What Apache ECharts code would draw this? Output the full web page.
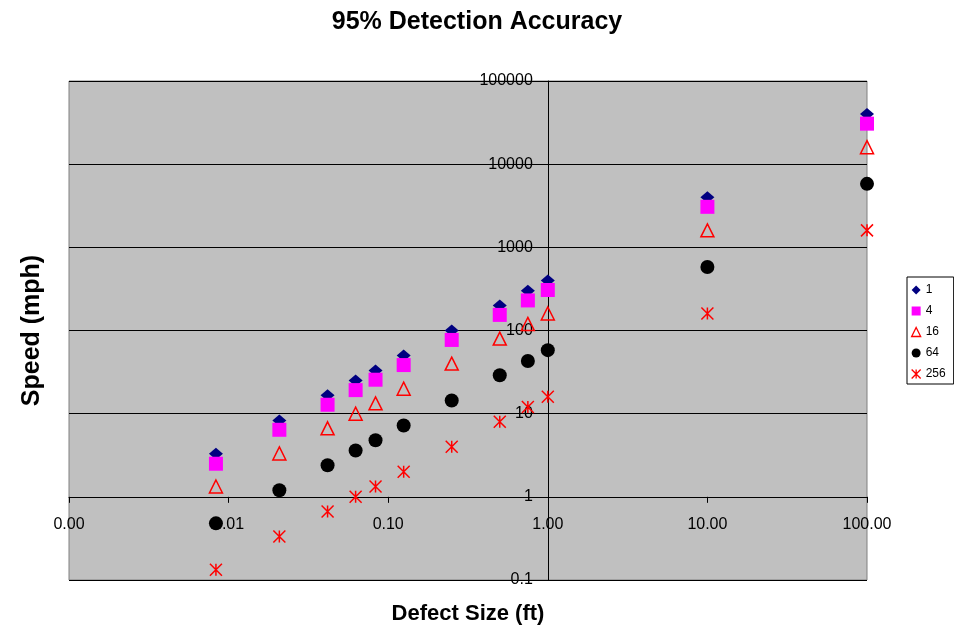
<!DOCTYPE html>
<html><head><meta charset="utf-8">
<script src="https://cdn.jsdelivr.net/npm/echarts@6/dist/echarts.min.js"></script>
<style>html,body{margin:0;padding:0;background:#fff}#c{width:954px;height:628px}</style>
</head><body><div id="c"></div>
<script>
// Defect sizes (ft)
const sizes = [0.00833, 0.0208, 0.0417, 0.0625, 0.0833, 0.125, 0.25, 0.5, 0.75, 1, 10, 100];
// Speeds (mph) per series
const speed1 = [3.3, 8.3, 16.7, 25, 33, 50, 100, 200, 300, 400, 4000, 40000];
const speed4 = [2.5, 6.4, 12.8, 19.2, 25.6, 38.4, 77, 154, 230, 307, 3070, 30700];
const speed16 = [1.33, 3.33, 6.67, 10, 13.3, 20, 40, 80, 120, 160, 1600, 16000];
const speed64 = [0.48, 1.2, 2.4, 3.6, 4.8, 7.2, 14.4, 29, 43, 58, 580, 5800];
const speed256 = [0.133, 0.333, 0.667, 1.0, 1.33, 2.0, 4.0, 8.0, 12, 16, 160, 1600];
const seriesNames = ['1', '4', '16', '64', '256'];

const FONT = 'Liberation Sans, Arial, sans-serif';
const G = {left: 69, top: 81, right: 87, bottom: 48};
const W = 954, H = 628;
const gw = W - G.left - G.right, gh = H - G.top - G.bottom;
// axes cross at x = 1 and y = 1
const xCrossOffset = -(gw * 3 / 5);   // 1 is 3 of 5 decades from left
const yCrossOffset = -(gh * 1 / 6);   // 1 is 1 of 6 decades from bottom

const STAR = 'path://M0,0L10,10M10,0L0,10M5,0L5,10';
const styles = [
  {symbol: 'diamond', symbolSize: [14, 12], itemStyle: {color: '#000080', opacity: 1}},
  {symbol: 'rect', symbolSize: 14, itemStyle: {color: '#FF00FF', opacity: 1}},
  {symbol: 'triangle', symbolSize: 13, itemStyle: {color: 'rgba(0,0,0,0)', borderColor: '#FF0000', borderWidth: 1.5, opacity: 1}},
  {symbol: 'circle', symbolSize: 14, itemStyle: {color: '#000000', opacity: 1}},
  {symbol: STAR, symbolSize: 12, itemStyle: {color: 'rgba(0,0,0,0)', borderColor: '#FF0000', borderWidth: 1.5, opacity: 1}}
];
const values = [speed1, speed4, speed16, speed64, speed256];

const series = seriesNames.map((n, i) => Object.assign({
  name: n,
  type: 'scatter',
  data: sizes.map((s, j) => [s, values[i][j]]),
  emphasis: {disabled: true},
  silent: true
}, styles[i]));

const legendIcons = [
  {icon: 'diamond', itemStyle: {color: '#000080', borderWidth: 0, opacity: 1}},
  {icon: 'rect', itemStyle: {color: '#FF00FF', borderWidth: 0, opacity: 1}},
  {icon: 'triangle', itemStyle: {color: 'rgba(0,0,0,0)', borderColor: '#FF0000', borderWidth: 1.3, opacity: 1}},
  {icon: 'circle', itemStyle: {color: '#000000', borderWidth: 0, opacity: 1}},
  {icon: STAR, itemStyle: {color: 'rgba(0,0,0,0)', borderColor: '#FF0000', borderWidth: 1.3, opacity: 1}}
];

const chart = echarts.init(document.getElementById('c'), null, {renderer: 'canvas'});
chart.setOption({
  animation: false,
  backgroundColor: '#ffffff',
  title: {
    text: '95% Detection Accuracy',
    left: 'center', top: 5,
    textStyle: {fontFamily: FONT, fontWeight: 'bold', fontSize: 25, color: '#000'}
  },
  legend: {
    orient: 'vertical',
    left: 907, top: 277,
    padding: [7, 8, 4, 4],
    itemGap: 9,
    itemWidth: 9, itemHeight: 9,
    backgroundColor: '#fff',
    borderColor: '#000', borderWidth: 1,
    borderRadius: 0,
    textStyle: {fontFamily: FONT, fontSize: 12, color: '#000'},
    selectedMode: false,
    data: seriesNames.map((n, i) => Object.assign({name: n}, legendIcons[i]))
  },
  grid: {
    left: G.left, top: G.top, right: G.right, bottom: G.bottom,
    containLabel: false,
    outerBoundsMode: 'none',
    show: true, backgroundColor: '#C0C0C0', borderColor: '#808080', borderWidth: 1
  },
  xAxis: {
    type: 'log', logBase: 10, min: 0.001, max: 100,
    position: 'bottom', offset: yCrossOffset,
    name: 'Defect Size (ft)', nameLocation: 'middle', nameGap: 106,
    nameTextStyle: {fontFamily: FONT, fontWeight: 'bold', fontSize: 22, color: '#000'},
    axisLine: {show: true, lineStyle: {color: '#000', width: 1}},
    axisTick: {show: true, inside: false, length: 6, lineStyle: {color: '#000'}},
    minorTick: {show: false},
    splitLine: {show: false},
    axisLabel: {
      fontFamily: FONT, fontSize: 16, color: '#000', margin: 20,
      showMinLabel: true, showMaxLabel: true,
      formatter: v => (+v).toFixed(2)
    }
  },
  yAxis: {
    type: 'log', logBase: 10, min: 0.1, max: 100000,
    position: 'left', offset: xCrossOffset,
    name: 'Speed (mph)', nameLocation: 'middle', nameGap: 503,
    nameTextStyle: {fontFamily: FONT, fontWeight: 'bold', fontSize: 25, color: '#000'},
    axisLine: {show: true, lineStyle: {color: '#000', width: 1}},
    axisTick: {show: true, inside: false, length: 7, lineStyle: {color: '#000'}},
    minorTick: {show: false},
    splitLine: {show: true, lineStyle: {color: '#000', width: 1}},
    axisLabel: {
      fontFamily: FONT, fontSize: 16, color: '#000', margin: 15,
      showMinLabel: true, showMaxLabel: true,
      formatter: v => (v < 1 ? String(+(+v).toPrecision(1)) : String(Math.round(v)))
    }
  },
  series: series
});
</script>
</body></html>
